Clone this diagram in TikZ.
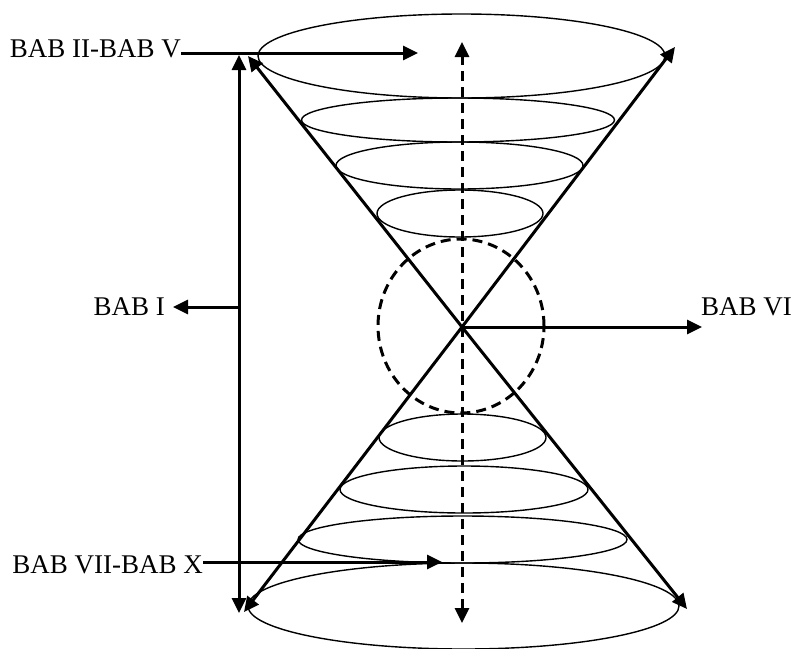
\documentclass[tikz,border=0pt]{standalone}
\usepackage{fontspec}
\setmainfont{Liberation Serif}
\usetikzlibrary{arrows.meta}
\begin{document}
\begin{tikzpicture}[x=1pt,y=-1pt,
  ring/.style={line width=1.4pt},
  tip/.style={Triangle[length=15pt,width=14pt]},
  arr/.style={line width=3pt,-{Triangle[length=15pt,width=14pt]}},
  darr/.style={line width=3pt,{Triangle[length=15pt,width=14pt]}-{Triangle[length=15pt,width=14pt]}},
  dsh/.style={line width=3pt,dash pattern=on 10pt off 6pt},
  lbl/.style={inner sep=0pt,font=\fontsize{27}{32}\selectfont}]
\useasboundingbox (0,0) rectangle (794,648);

% upper cone rings
\draw[ring] (461.5,56) ellipse [x radius=203.5pt, y radius=42pt];
\draw[ring] (458,120) ellipse [x radius=156.5pt, y radius=22pt];
\draw[ring] (459.5,165.5) ellipse [x radius=123.5pt, y radius=23.5pt];
\draw[ring] (460,213.5) ellipse [x radius=83pt, y radius=23.5pt];
% lower cone rings
\draw[ring] (462.5,437.5) ellipse [x radius=83.5pt, y radius=23.5pt];
\draw[ring] (464,489.5) ellipse [x radius=124pt, y radius=23.5pt];
\draw[ring] (462.5,539.5) ellipse [x radius=164.5pt, y radius=23.5pt];
\draw[ring] (463.5,606) ellipse [x radius=215.5pt, y radius=43pt];

% dashed circle
\draw[dsh] (461,326) ellipse [x radius=83pt, y radius=87pt];

% named points
\coordinate (c) at (462,327);
\coordinate (tl) at (248,56);
\coordinate (tr) at (675,47);
\coordinate (bl) at (244,612);
\coordinate (br) at (687,609);
\coordinate (axT) at (462,42);
\coordinate (axB) at (462,623);
\coordinate (vT) at (239,55);
\coordinate (vB) at (239,613);
\coordinate (vM) at (239,307);

% labels
\node[lbl,anchor=base east] (t2) at (181,57) {BAB II-BAB V};
\node[lbl,anchor=base east] (t1) at (165,315) {BAB I};
\node[lbl,anchor=base west] (t6) at (701,315) {BAB VI};
\node[lbl,anchor=base east] (t7) at (203,573) {BAB VII-BAB X};

\coordinate (t2s) at (181,53);
\coordinate (t2e) at (418,53);
\coordinate (t1e) at (173,307);
\coordinate (t6e) at (702,327);
\coordinate (t7s) at (203,562);
\coordinate (t7e) at (442,562);

% vertical dashed axis
\draw[dsh,{Triangle[length=15pt,width=14pt]}-{Triangle[length=15pt,width=14pt]}] (axB) -- (axT);

% cone generators
\draw[arr] (c) -- (tl);
\draw[arr] (c) -- (tr);
\draw[arr] (c) -- (bl);
\draw[arr] (c) -- (br);

% left span arrow
\draw[darr] (vB) -- (vT);
\draw[arr] (vM) -- (t1e);

% label arrows
\draw[arr] (t2s) -- (t2e);
\draw[arr] (t7s) -- (t7e);
\draw[arr] (c) -- (t6e);
\end{tikzpicture}
\end{document}
